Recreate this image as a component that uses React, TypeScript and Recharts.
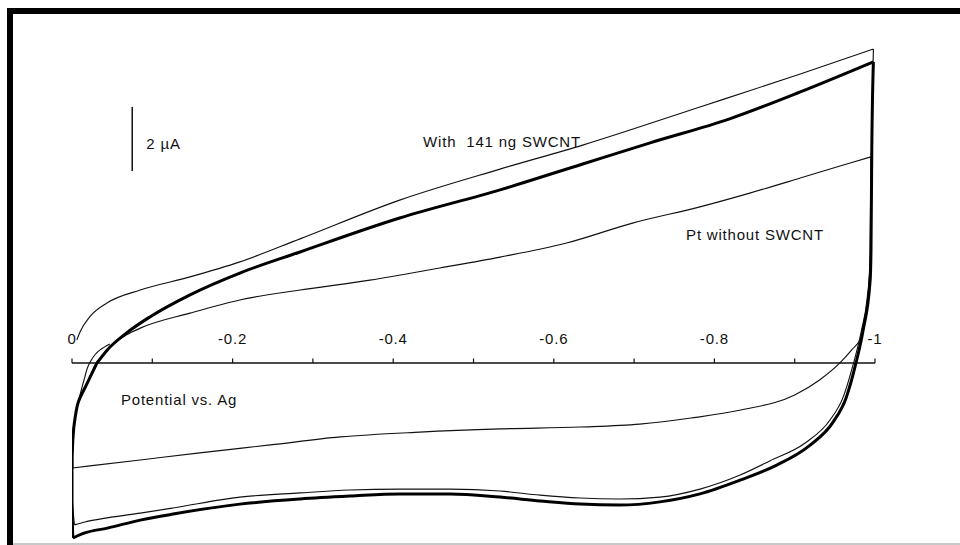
import React from 'react';
import { LineChart, Line, XAxis, YAxis, ReferenceLine, ReferenceDot } from 'recharts';

// potential (V vs. Ag) and current (µA).
// each loop is kept as three pieces: rise at 0 V, forward sweep, return sweep

// first cycle with 141 ng SWCNT (thin outer trace)
const firstUpperE = [-0.006, -0.01, -0.022, -0.044, -0.085, -0.147, -0.209, -0.284, -0.408, -0.533, -0.636, -0.782, -0.907, -0.998];
const firstUpperI = [0.72, 0.97, 1.44, 1.88, 2.28, 2.69, 3.16, 3.88, 5.09, 6.06, 6.81, 8.0, 9.03, 9.81];
const firstLowerE = [
  -0.998, -0.996, -0.995, -0.99, -0.983, -0.973, -0.96, -0.944, -0.913, -0.869, -0.832, -0.782, -0.732, -0.682,
  -0.633, -0.583, -0.533, -0.471, -0.408, -0.346, -0.284, -0.209, -0.126, -0.085, -0.044, -0.016, -0.003,
];
const firstLowerI = [
  9.81, 6.66, 3.53, 1.97, 1.0, -0.03, -1.09, -1.78, -2.5, -3.06, -3.5, -3.94, -4.19, -4.25,
  -4.22, -4.13, -4.0, -3.94, -3.94, -3.97, -4.06, -4.19, -4.53, -4.69, -4.84, -4.97, -5.06,
];
const firstRiseE = [-0.003, 0, -0.001, -0.004, -0.01, -0.015, -0.022, -0.035, -0.047];
const firstRiseI = [-5.06, -3.97, -2.41, -1.69, -1.0, -0.53, 0, 0.41, 0.59];

// later cycles with SWCNT (heavy trace)
const swcntRiseE = [-0.001, 0, 0, -0.001, -0.004, -0.0075, -0.019, -0.031];
const swcntRiseI = [-5.47, -4.28, -3.34, -2.41, -1.69, -1.25, -0.63, 0];
const swcntUpperE = [-0.031, -0.044, -0.068, -0.097, -0.147, -0.209, -0.284, -0.408, -0.533, -0.636, -0.72, -0.819, -0.907, -0.998];
const swcntUpperI = [0, 0.41, 0.94, 1.44, 2.13, 2.81, 3.47, 4.53, 5.41, 6.22, 6.88, 7.63, 8.47, 9.41];
const swcntLowerE = [
  -0.998, -0.996, -0.995, -0.994, -0.985, -0.976, -0.964, -0.948, -0.918, -0.875, -0.832, -0.782, -0.732, -0.682,
  -0.633, -0.583, -0.533, -0.471, -0.408, -0.346, -0.284, -0.209, -0.126, -0.085, -0.044, -0.016, -0.001,
];
const swcntLowerI = [
  9.41, 6.66, 3.53, 2.6, 1.0, -0.03, -1.09, -1.84, -2.59, -3.22, -3.66, -4.09, -4.34, -4.44,
  -4.41, -4.31, -4.19, -4.09, -4.09, -4.16, -4.25, -4.41, -4.72, -4.91, -5.16, -5.31, -5.47,
];

// Pt without SWCNT
const ptRiseE = [-0.001, 0, -0.004, -0.0075, -0.019, -0.031];
const ptRiseI = [-3.28, -2.41, -1.69, -1.25, -0.63, 0];
const ptUpperE = [-0.031, -0.044, -0.068, -0.085, -0.147, -0.209, -0.284, -0.371, -0.458, -0.533, -0.616, -0.699, -0.782, -0.844, -0.907, -0.969, -0.995];
const ptUpperI = [0, 0.41, 0.88, 1.09, 1.56, 1.97, 2.28, 2.59, 2.97, 3.31, 3.75, 4.38, 4.88, 5.31, 5.78, 6.25, 6.44];
const ptLowerE = [
  -0.995, -0.994, -0.991, -0.983, -0.971, -0.955, -0.931, -0.9, -0.833, -0.771, -0.707, -0.633, -0.533, -0.433,
  -0.334, -0.247, -0.159, -0.085, -0.001,
];
const ptLowerI = [
  6.44, 3.53, 1.97, 0.81, 0.41, -0.03, -0.53, -1.0, -1.47, -1.72, -1.91, -2.0, -2.06, -2.16,
  -2.31, -2.56, -2.81, -3.03, -3.28,
];

const minorTicks = [0, -0.1, -0.2, -0.3, -0.4, -0.5, -0.6, -0.7, -0.8, -0.9, -1];
const tickLabels = ['0', '-0.2', '-0.4', '-0.6', '-0.8', '-1'];
const tickLabelValues = [0, -0.2, -0.4, -0.6, -0.8, -1];

const toPoints = (e: number[], i: number[]) => e.map((E, k) => ({ E, I: i[k] }));

type Piece = { data: { E: number; I: number }[]; curve: 'monotoneX' | 'monotoneY'; width: number; color: string };

const thin = (data: Piece['data'], curve: Piece['curve']): Piece => ({ data, curve, width: 1.15, color: '#111' });
const heavy = (data: Piece['data'], curve: Piece['curve']): Piece => ({ data, curve, width: 3, color: '#000' });

const pieces: Piece[] = [
  thin(toPoints(ptRiseE, ptRiseI), 'monotoneY'),
  thin(toPoints(ptUpperE, ptUpperI), 'monotoneX'),
  thin(toPoints(ptLowerE, ptLowerI), 'monotoneX'),
  thin(toPoints(firstUpperE, firstUpperI), 'monotoneX'),
  thin(toPoints(firstLowerE, firstLowerI), 'monotoneX'),
  thin(toPoints(firstRiseE, firstRiseI), 'monotoneY'),
  heavy(toPoints(swcntRiseE, swcntRiseI), 'monotoneY'),
  heavy(toPoints(swcntUpperE, swcntUpperI), 'monotoneX'),
  heavy(toPoints(swcntLowerE, swcntLowerI), 'monotoneX'),
];

const FONT = '"Liberation Sans", Arial, sans-serif';
const textStyle = { fontFamily: FONT, fontSize: 15, letterSpacing: 0.8, fill: '#111' };

const note = (value: string) => ({ value, position: 'center' as const, style: textStyle });

export default function App() {
  return (
    <div style={{ position: 'relative', width: 960, height: 545, overflow: 'hidden', background: '#fff' }}>
      <style>{`body{margin:0}`}</style>
      {/* scanned frame: only top and left edges survive */}
      <div
        style={{
          position: 'absolute',
          left: 7,
          top: 8,
          width: 1000,
          height: 600,
          borderTop: '6px solid #000',
          borderLeft: '6px solid #000',
        }}
      />
      <div style={{ position: 'absolute', left: 13, top: 543, width: 960, height: 2, background: '#c8c8c8' }} />
      <div style={{ position: 'absolute', left: 0, top: 0 }}>
        <LineChart width={960} height={545} margin={{ top: 11, right: 85, bottom: 6, left: 72 }}>
          <XAxis type="number" dataKey="E" domain={[-1, 0]} reversed hide allowDataOverflow />
          <YAxis type="number" dataKey="I" domain={[-5.5, 11]} hide allowDataOverflow />

          <ReferenceLine y={0} stroke="#111" strokeWidth={1.5} />
          {minorTicks.map((t) => (
            <ReferenceLine
              key={t}
              segment={[{ x: t, y: 0 }, { x: t, y: 0.14 }]}
              stroke="#111"
              strokeWidth={1.2}
            />
          ))}
          {tickLabelValues.map((t, k) => (
            <ReferenceDot key={t} x={t} y={0.75} r={0} fill="none" stroke="none" label={note(tickLabels[k])} />
          ))}

          {/* 2 µA scale bar */}
          <ReferenceLine segment={[{ x: -0.075, y: 6 }, { x: -0.075, y: 8 }]} stroke="#111" strokeWidth={1.5} />
          <ReferenceDot x={-0.114} y={6.84} r={0} fill="none" stroke="none" label={note('2 µA')} />

          <ReferenceDot x={-0.5355} y={6.906} r={0} fill="none" stroke="none" label={note('With\u00a0 141 ng SWCNT')} />
          <ReferenceDot x={-0.8506} y={4.0} r={0} fill="none" stroke="none" label={note('Pt without SWCNT')} />
          <ReferenceDot x={-0.1333} y={-1.156} r={0} fill="none" stroke="none" label={note('Potential vs. Ag')} />

          {pieces.map((p, k) => (
            <Line
              key={k}
              data={p.data}
              dataKey="I"
              type={p.curve}
              stroke={p.color}
              strokeWidth={p.width}
              strokeLinejoin="round"
              dot={false}
              isAnimationActive={false}
            />
          ))}
        </LineChart>
      </div>
    </div>
  );
}
